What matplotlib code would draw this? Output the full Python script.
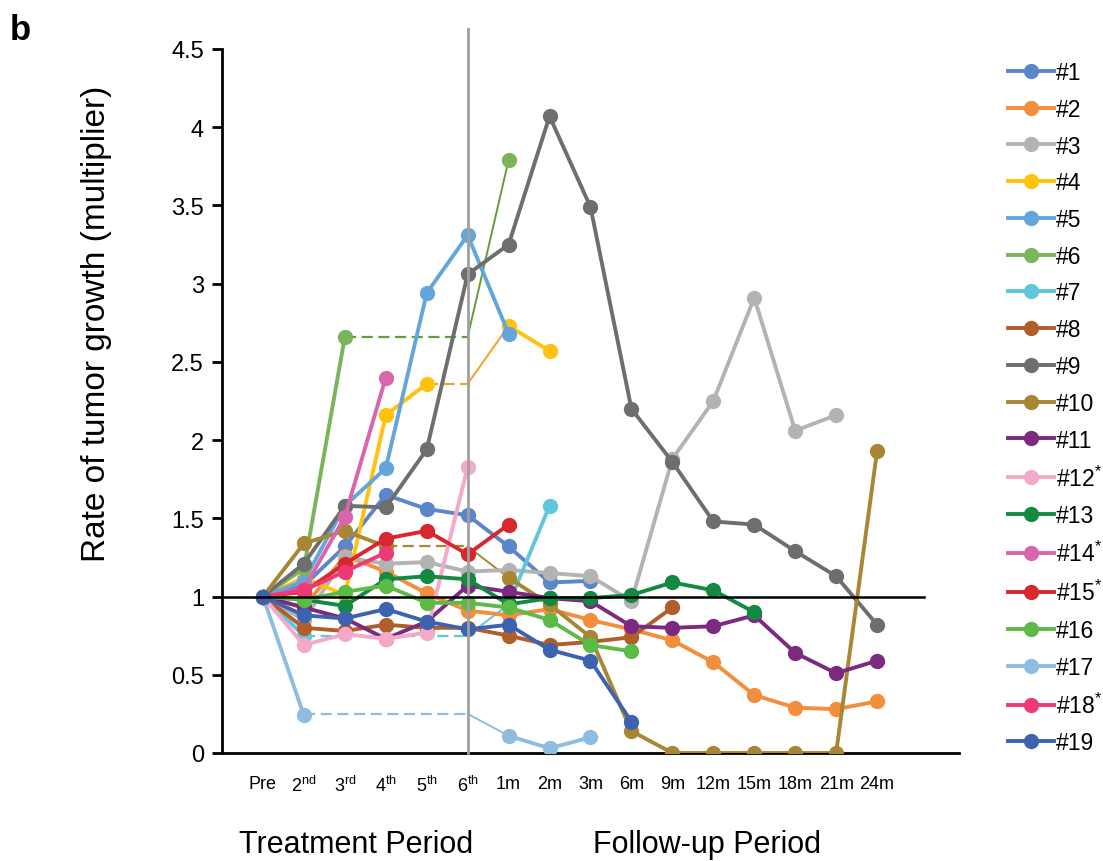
import numpy as np
import matplotlib
matplotlib.use("Agg")
import matplotlib.pyplot as plt

plt.rcParams['font.family'] = ['Liberation Sans', 'DejaVu Sans']
plt.rcParams['mathtext.fontset'] = 'custom'
plt.rcParams['mathtext.rm'] = 'Liberation Sans'
plt.rcParams['mathtext.it'] = 'Liberation Sans'

# time points
x_labels = ['Pre', '2$^{nd}$', '3$^{rd}$', '4$^{th}$', '5$^{th}$', '6$^{th}$',
            '1m', '2m', '3m', '6m', '9m', '12m', '15m', '18m', '21m', '24m']

N = None
p1 = [1, 1.07, 1.32, 1.65, 1.56, 1.52, 1.32, 1.09, 1.10]
p2 = [1, 0.93, 1.26, 1.16, 1.02, 0.91, 0.88, 0.92, 0.85, 0.79, 0.72, 0.58, 0.37, 0.29, 0.28, 0.33]
p3 = [1, 0.85, 1.25, 1.21, 1.22, 1.16, 1.17, 1.15, 1.13, 0.97, 1.88, 2.25, 2.91, 2.06, 2.16]
p4 = [1, 1.12, 1.01, 2.16, 2.36, N, 2.73, 2.57]
p5 = [1, 1.10, 1.58, 1.82, 2.94, 3.31, 2.68]
p6 = [1, 1.18, 2.66, N, N, N, 3.79]
p7 = [1, 0.75, N, N, N, N, 0.95, 1.58]
p8 = [1, 0.80, 0.78, 0.82, 0.80, 0.80, 0.75, 0.69, 0.71, 0.74, 0.93]
p9 = [1, 1.21, 1.58, 1.57, 1.94, 3.06, 3.25, 4.07, 3.49, 2.20, 1.86, 1.48, 1.46, 1.29, 1.13, 0.82]
p10 = [1, 1.34, 1.42, 1.32, N, N, 1.12, 0.95, 0.74, 0.14, 0, 0, 0, 0, 0, 1.93]
p11 = [1, 0.93, 0.86, 0.73, 0.84, 1.07, 1.03, 0.99, 0.97, 0.81, 0.80, 0.81, 0.88, 0.64, 0.51, 0.59]
p12 = [1, 0.69, 0.76, 0.73, 0.77, 1.83]
p13 = [1, 0.98, 0.94, 1.11, 1.13, 1.11, 0.95, 0.99, 0.99, 1.01, 1.09, 1.04, 0.90]
p14 = [1, 1.05, 1.51, 2.40]
p15 = [1, 1.03, 1.21, 1.37, 1.42, 1.27, 1.46]
p16 = [1, 0.98, 1.03, 1.07, 0.96, 0.96, 0.93, 0.85, 0.69, 0.65]
p17 = [1, 0.24, N, N, N, N, 0.11, 0.03, 0.10]
p18 = [1, 1.04, 1.16, 1.28]
p19 = [1, 0.88, 0.86, 0.92, 0.84, 0.79, 0.82, 0.66, 0.59, 0.20]

series = [p1, p2, p3, p4, p5, p6, p7, p8, p9, p10,
          p11, p12, p13, p14, p15, p16, p17, p18, p19]
names = ['#1', '#2', '#3', '#4', '#5', '#6', '#7', '#8', '#9', '#10', '#11',
         '#12$^{*}$', '#13', '#14$^{*}$', '#15$^{*}$', '#16', '#17', '#18$^{*}$', '#19']
colors = ['#5b86c9', '#f28e3c', '#b3b3b3', '#ffc20e', '#64a6dc', '#7ab55c',
          '#5fc6dd', '#b05e2a', '#6e6e6e', '#a88633', '#7b2a80', '#f4a9c8',
          '#138a42', '#d966ac', '#d6282e', '#5cba47', '#8fbde2', '#ee3a74',
          '#3d63b0']

# last observed value carried forward to the 6th course (dashed)
carried = {3: (4, 2.36, '#f5a02a'), 5: (2, 2.66, '#5f9e3a'), 6: (1, 0.75, '#5fc6dd'),
           9: (3, 1.32, '#a88633'), 16: (1, 0.25, '#8fbde2')}

fig = plt.figure(figsize=(11.03, 8.62), dpi=100)
ax = fig.add_axes([0.2013, 0.1253, 0.8694 - 0.2013, 0.942 - 0.1253])

handles = []
for i, vals in enumerate(series):
    y = np.array([np.nan if v is None else v for v in vals], dtype=float)
    x = np.arange(len(y))
    h, = ax.plot(x, y, '-o', color=colors[i], lw=2.8, ms=11, mec='none', zorder=3)
    handles.append(h)
    if i in carried:
        start, val, dcol = carried[i]
        ax.plot([start, 5], [val, val], '--', color=dcol, lw=1.6, dashes=(5, 2.5), zorder=2)
        ax.plot([5, 6], [val, y[6]], '-', color=dcol, lw=1.4, zorder=2)

ax.axvline(5, ymin=0, ymax=4.63 / 4.5, color='#a0a0a0', lw=2, zorder=5, clip_on=False)
ax.plot([-1, 16.15], [1, 1], color='black', lw=1.8, zorder=6, clip_on=False)

ax.set_xlim(-1, 17)
ax.set_ylim(0, 4.5)
ax.set_yticks(np.arange(0, 4.51, 0.5))
ax.set_yticklabels(['0', '0.5', '1', '1.5', '2', '2.5', '3', '3.5', '4', '4.5'], fontsize=17)
ax.set_xticks(np.arange(len(x_labels)))
ax.set_xticklabels(x_labels, fontsize=13)
ax.tick_params(axis='x', length=0, pad=16)
ax.tick_params(axis='y', length=7, width=2, direction='out', pad=6)
for s in ['top', 'right']:
    ax.spines[s].set_visible(False)
for s in ['left', 'bottom']:
    ax.spines[s].set_linewidth(2)

fig.text(97 / 1103, 1 - 324 / 862, 'Rate of tumor growth (multiplier)', fontsize=24,
         rotation=90, ha='center', va='center')
fig.text(356 / 1103, 1 - 845 / 862, 'Treatment Period', fontsize=22, ha='center', va='center')
fig.text(707 / 1103, 1 - 845 / 862, 'Follow-up Period', fontsize=22, ha='center', va='center')
fig.text(10 / 1103, 1 - 30 / 862, 'b', fontsize=25, fontweight='bold', ha='left', va='center')

fig.legend(handles, names, loc='upper left', bbox_to_anchor=(1008 / 1103, 1 - 62 / 862),
           frameon=False, fontsize=16.5, handlelength=2.0, handletextpad=0.1,
           labelspacing=0.6, borderaxespad=0, borderpad=0)

fig.savefig('out.png', dpi=100)
